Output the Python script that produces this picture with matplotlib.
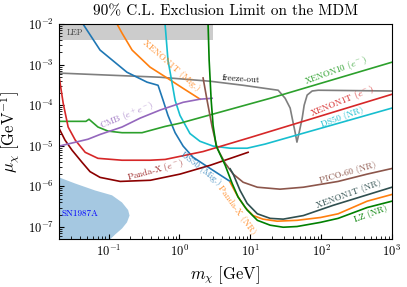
import matplotlib
matplotlib.use("Agg")
import matplotlib.pyplot as plt

plt.rcParams["font.family"] = "serif"
plt.rcParams["font.serif"] = ["cmr10"]
plt.rcParams["mathtext.fontset"] = "cm"
plt.rcParams["axes.formatter.use_mathtext"] = True
plt.rcParams["axes.unicode_minus"] = False

# axis ranges
m_lim = [0.02, 1000]
mu_lim = [5e-8, 1e-2]

# LEP band
lep_m = [0.02, 3.0]
lep_mu = [4e-3, 1e-2]

# DS50 (Migdal)
ds50_mig_m = [0.0437, 0.0759, 0.182, 0.35, 0.50, 0.589, 0.69, 0.87, 1.13, 1.56, 2.72, 5.2]
ds50_mig_mu = [1e-2, 2.29e-3, 6.5e-4, 3.7e-4, 3.1e-4, 1.32e-4, 5.6e-5, 2.1e-5, 9.8e-6, 5.2e-6, 2.75e-6, 1.32e-6]

# XENON1T (Migdal)
x1t_mig_m = [0.132, 0.155, 0.215, 0.385, 0.67, 1.13, 1.96]
x1t_mig_mu = [1e-2, 6.0e-3, 2.29e-3, 8.7e-4, 4.7e-4, 2.6e-4, 1.41e-4]

# DS50 (NR)
ds50_nr_m = [0.628, 0.69, 0.789, 0.87, 1.02, 1.41, 1.95, 2.99, 5.2, 9.04, 16.2, 28.2, 1000]
ds50_nr_mu = [1e-2, 1.29e-3, 3.5e-4, 1.32e-4, 5.6e-5, 2.0e-5, 1.29e-5, 9.8e-6, 8.7e-6, 8.7e-6, 1.1e-5, 1.45e-5, 8.5e-5]

# LZ (NR)
lz_m = [2.54, 2.63, 2.81, 2.99, 3.30, 3.64, 4.43, 5.56, 6.75, 9.04, 12.6, 19.1, 29.2, 45.7, 97.7, 174, 447, 1000]
lz_mu = [1e-2, 1.29e-3, 1.32e-4, 3.2e-5, 1.02e-5, 6.9e-6, 3.3e-6, 1.17e-6, 5.4e-7, 2.6e-7, 1.45e-7, 1.1e-7,
         9.8e-8, 1.02e-7, 1.29e-7, 1.62e-7, 3.0e-7, 4.3e-7]

# XENON1T (NR)
x1t_nr_m = [5.2, 5.75, 7.19, 9.04, 12.6, 19.1, 29.2, 56.2, 148, 1000]
x1t_nr_mu = [2.7e-6, 2.0e-6, 7.9e-7, 3.8e-7, 2.1e-7, 1.62e-7, 1.55e-7, 1.9e-7, 3.4e-7, 9.5e-7]

# Panda-X (NR)
pandax_nr_m = [5.2, 6.53, 8.47, 11.0, 15.1, 24.0, 45.7, 97.7, 174, 447, 1000]
pandax_nr_mu = [1.26e-6, 6.0e-7, 3.0e-7, 1.9e-7, 1.55e-7, 1.38e-7, 1.45e-7, 1.7e-7, 2.1e-7, 4.3e-7, 6.3e-7]

# PICO-60 (NR)
pico_m = [2.16, 2.46, 2.90, 3.41, 4.43, 5.75, 7.94, 12.6, 26.3, 56.2, 174, 447, 1000]
pico_mu = [4.7e-4, 1.32e-4, 2.9e-5, 8.7e-6, 3.7e-6, 2.0e-6, 1.26e-6, 9.5e-7, 8.5e-7, 9.5e-7, 1.32e-6, 2.0e-6, 2.75e-6]

# XENON10 (e-)
x10_e_m = [0.02, 0.048, 0.053, 0.0708, 0.0984, 0.155, 0.297, 0.63, 1.02, 19.1, 1000]
x10_e_mu = [4.0e-5, 4.0e-5, 4.5e-5, 2.9e-5, 2.3e-5, 2.1e-5, 2.1e-5, 3.0e-5, 3.6e-5, 1.48e-4, 1.15e-3]

# XENON1T (e-)
x1t_e_m = [0.02, 0.0229, 0.0269, 0.0339, 0.0468, 0.0708, 0.155, 0.385, 0.63, 2.16, 10, 1000]
x1t_e_mu = [5.25e-4, 1.12e-4, 2.9e-5, 1.38e-5, 6.9e-6, 4.9e-6, 4.4e-6, 4.4e-6, 4.6e-6, 7.2e-6, 1.6e-5, 1.86e-4]

# Panda-X (e-)
pandax_e_m = [0.02, 0.0243, 0.0305, 0.0423, 0.0548, 0.0759, 0.146, 0.389, 1.02, 2.72, 9.33]
pandax_e_mu = [2.7e-5, 1.38e-5, 7.8e-6, 3.9e-6, 2.3e-6, 1.66e-6, 1.32e-6, 1.41e-6, 2.0e-6, 3.3e-6, 6.9e-6]

# CMB (e+e-)
cmb_m = [0.02, 0.0513, 0.0759, 0.155, 0.279, 0.535, 1.13, 1.96, 2.90]
cmb_mu = [9.8e-6, 1.45e-5, 1.9e-5, 2.9e-5, 4.8e-5, 7.6e-5, 1.18e-4, 1.41e-4, 1.48e-4]

# freeze-out
fo_m = [0.02, 0.105, 0.533, 2.72, 7.94, 16.2, 24.8, 31.1, 36.6, 39.1, 43.1, 45.6, 49.0, 54.1, 57.7, 63.6, 74.8, 91.0, 1000]
fo_mu = [6.2e-4, 5.5e-4, 4.9e-4, 3.9e-4, 3.1e-4, 2.6e-4, 2.34e-4, 1.48e-4, 8.5e-5, 4.8e-5, 2.1e-5, 1.23e-5,
         2.1e-5, 4.8e-5, 1.0e-4, 1.78e-4, 2.24e-4, 2.34e-4, 2.24e-4]

# SN1987A region boundary
sn_m = [0.02, 0.0339, 0.0646, 0.112, 0.155, 0.189, 0.198, 0.182, 0.155, 0.124, 0.105]
sn_mu = [1.66e-6, 1.17e-6, 7.9e-7, 6.0e-7, 4.0e-7, 2.6e-7, 1.9e-7, 1.29e-7, 9.1e-8, 6.5e-8, 4.9e-8]

fig, ax = plt.subplots(figsize=(4.07, 2.87), dpi=100)
fig.subplots_adjust(left=0.145, right=0.963, bottom=0.167, top=0.916)

ax.fill_between(lep_m, lep_mu[0], lep_mu[1], color="gray", alpha=0.4, lw=0, zorder=1)
ax.fill(sn_m + [sn_m[-1], m_lim[0]], sn_mu + [mu_lim[0], mu_lim[0]], color="tab:blue", alpha=0.4, lw=0, zorder=1)

lw = 1.2
ax.plot(fo_m, fo_mu, color="tab:gray", lw=lw)
ax.plot(ds50_mig_m, ds50_mig_mu, color="tab:blue", lw=lw)
ax.plot(x1t_mig_m, x1t_mig_mu, color="tab:orange", lw=lw)
ax.plot(ds50_nr_m, ds50_nr_mu, color="tab:cyan", lw=lw)
ax.plot(x10_e_m, x10_e_mu, color="tab:green", lw=lw)
ax.plot(x1t_e_m, x1t_e_mu, color="tab:red", lw=lw)
ax.plot(pandax_e_m, pandax_e_mu, color="darkred", lw=lw)
ax.plot(cmb_m, cmb_mu, color="tab:purple", lw=lw)
ax.plot(pico_m, pico_mu, color="tab:brown", lw=lw)
ax.plot(x1t_nr_m, x1t_nr_mu, color="darkslategray", lw=lw)
ax.plot(pandax_nr_m, pandax_nr_mu, color="tab:orange", lw=lw)
ax.plot(lz_m, lz_mu, color="green", lw=lw)

# curve labels
fs = 6.5
ax.text(0.0337, 6.0e-3, "LEP", fontsize=6, color="#444444", ha="center", va="center")
ax.text(0.76, 9.7e-4, "XENON1T (Mig.)", fontsize=fs, color="tab:orange", alpha=0.85, rotation=-41, ha="center", va="center")
ax.text(0.182, 5.4e-5, r"CMB ($e^+e^-$)", fontsize=fs, color="tab:purple", alpha=0.85, rotation=22, ha="center", va="center")
ax.text(7.45, 4.4e-4, "freeze-out", fontsize=fs, color="black", rotation=-4, ha="center", va="center")
ax.text(159, 7.3e-4, r"XENON10 ($e^-$)", fontsize=fs, color="tab:green", rotation=20, ha="center", va="center")
ax.text(199, 1.26e-4, r"XENON1T ($e^-$)", fontsize=fs, color="tab:red", rotation=22, ha="center", va="center")
ax.text(199, 5.06e-5, "DS50 (NR)", fontsize=fs, color="tab:cyan", rotation=20, ha="center", va="center")
ax.text(241, 2.2e-6, "PICO-60 (NR)", fontsize=fs, color="tab:brown", rotation=16, ha="center", va="center")
ax.text(241, 6.3e-7, "XENON1T (NR)", fontsize=fs, color="darkslategray", rotation=20, ha="center", va="center")
ax.text(510, 2.04e-7, "LZ (NR)", fontsize=fs, color="green", rotation=20, ha="center", va="center")
ax.text(6.5, 2.55e-7, "Panda-X (NR)", fontsize=fs, color="tab:orange", alpha=0.85, rotation=-54, ha="center", va="center")
ax.text(2.03, 2.8e-6, "DS50 (Mig.)", fontsize=fs, color="tab:blue", alpha=0.85, rotation=-38, ha="center", va="center")
ax.text(0.469, 2.5e-6, r"Panda-X ($e^-$)", fontsize=fs, color="darkred", alpha=0.85, rotation=15, ha="center", va="center")
ax.text(0.0396, 2.15e-7, "SN1987A", fontsize=fs, color="blue", ha="center", va="center")

ax.set_xscale("log")
ax.set_yscale("log")
ax.set_xlim(m_lim)
ax.set_ylim(mu_lim)
ax.tick_params(which="both", direction="in", labelsize=9)
ax.set_xlabel(r"$m_\chi\ [\mathrm{GeV}]$", fontsize=12)
ax.set_ylabel(r"$\mu_\chi\ [\mathrm{GeV}^{-1}]$", fontsize=12)
ax.set_title("90% C.L. Exclusion Limit on the MDM", fontsize=11)

plt.savefig("out.png", dpi=100)
